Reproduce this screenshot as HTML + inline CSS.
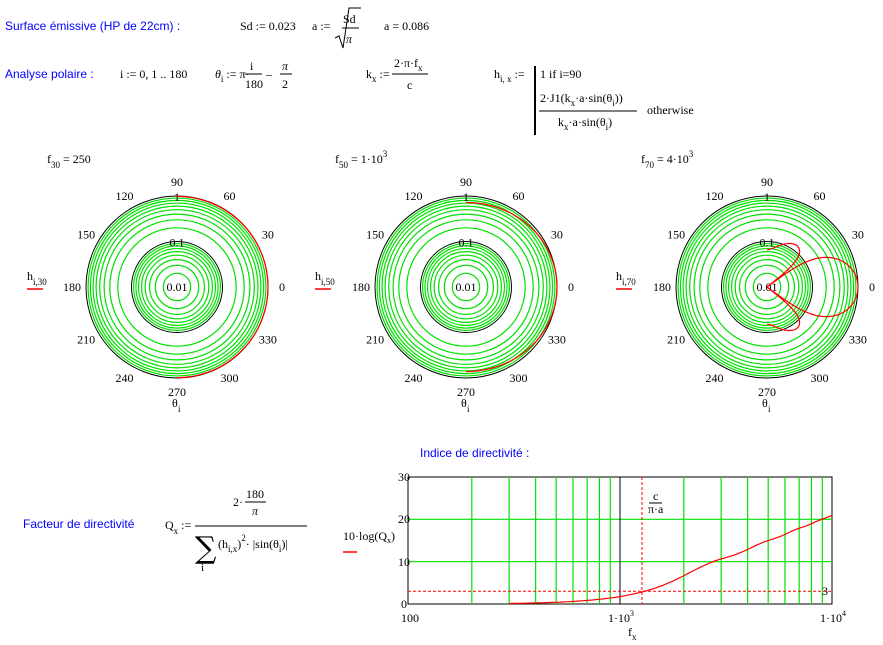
<!DOCTYPE html>
<html><head><meta charset="utf-8"><style>
html,body{margin:0;padding:0;background:#fff;}
svg{display:block}
text{font-family:"Liberation Serif",serif;font-size:12px;fill:#000}
.b{font-family:"Liberation Sans",sans-serif;fill:#0000ff;font-size:12px}
.s{font-size:9px}
</style></head><body>
<svg id="s" width="883" height="645" xmlns="http://www.w3.org/2000/svg">
<!-- top row -->
<text class="b" x="5" y="30">Surface émissive (HP de 22cm) :</text>
<text x="240" y="30">Sd := 0.023</text>
<text x="312" y="30">a :=</text>
<path d="M335,38 L339,36 L343,48 L349,8 L361,8" stroke="#000" fill="none"/>
<text x="343" y="23">Sd</text>
<line x1="342" y1="28" x2="359" y2="28" stroke="#000"/>
<text x="346" y="43" font-style="italic">π</text>
<text x="384" y="30">a = 0.086</text>

<text class="b" x="5" y="78">Analyse polaire :</text>
<text x="120" y="78">i := 0, 1 .. 180</text>
<text x="215" y="78"><tspan font-style="italic">θ</tspan><tspan dy="4" class="s">i</tspan><tspan dy="-4"> := π·</tspan></text>
<text x="250" y="70">i</text><line x1="245" y1="74" x2="262" y2="74" stroke="#000"/><text x="245" y="88">180</text>
<text x="266" y="78">–</text>
<text x="282" y="70" font-style="italic">π</text><line x1="280" y1="74" x2="292" y2="74" stroke="#000"/><text x="282" y="88">2</text>

<text x="366" y="78">k<tspan dy="4" class="s">x</tspan><tspan dy="-4"> :=</tspan></text>
<text x="394" y="67">2·π·f<tspan dy="4" class="s">x</tspan></text>
<line x1="392" y1="74" x2="428" y2="74" stroke="#000"/><text x="407" y="89">c</text>

<text x="494" y="78">h<tspan dy="4" class="s">i, x</tspan><tspan dy="-4"> :=</tspan></text>
<line x1="535" y1="66" x2="535" y2="135" stroke="#000" stroke-width="2"/>
<text x="540" y="78">1  if  i=90</text>
<text x="540" y="102">2·J1(k<tspan dy="4" class="s">x</tspan><tspan dy="-4">·a·sin(θ</tspan><tspan dy="4" class="s">i</tspan><tspan dy="-4">))</tspan></text>
<line x1="539" y1="111" x2="637" y2="111" stroke="#000"/>
<text x="558" y="126">k<tspan dy="4" class="s">x</tspan><tspan dy="-4">·a·sin(θ</tspan><tspan dy="4" class="s">i</tspan><tspan dy="-4">)</tspan></text>
<text x="647" y="114">otherwise</text>

<!-- plot titles -->
<text x="47" y="163">f<tspan dy="5" class="s">30</tspan><tspan dy="-5"> = 250</tspan></text>
<text x="335" y="163">f<tspan dy="5" class="s">50</tspan><tspan dy="-5"> = 1·10</tspan><tspan dy="-6" class="s">3</tspan></text>
<text x="641" y="163">f<tspan dy="5" class="s">70</tspan><tspan dy="-5"> = 4·10</tspan><tspan dy="-6" class="s">3</tspan></text>

<g id="polars"></g>

<!-- bottom -->
<text class="b" x="420" y="457">Indice de directivité :</text>
<text class="b" x="23" y="528">Facteur de directivité</text>
<text x="165" y="529">Q<tspan dy="5" class="s">x</tspan><tspan dy="-5"> :=</tspan></text>
<text x="233" y="506">2·</text><line x1="245" y1="502" x2="266" y2="502" stroke="#000"/>
<text x="246" y="498">180</text><text x="252" y="515" font-style="italic">π</text>
<line x1="195" y1="526" x2="307" y2="526" stroke="#000"/>
<text x="195" y="558" style="font-family:'DejaVu Serif',serif;font-size:30px">∑</text>
<text x="201" y="571" style="font-size:11px">i</text>
<text x="218" y="548">(h<tspan dy="4" class="s">i,x</tspan><tspan dy="-4">)</tspan><tspan dy="-7" class="s">2</tspan><tspan dy="7">· |sin(θ</tspan><tspan dy="4" class="s">i</tspan><tspan dy="-4">)|</tspan></text>

<rect x="408" y="477" width="424" height="127" fill="none" stroke="#000"/>
<g id="chart"></g>
<text x="398" y="481" font-size="10">30</text>
<text x="398" y="523" font-size="10">20</text>
<text x="398" y="566" font-size="10">10</text>
<text x="401" y="608" font-size="10">0</text>
<text x="401" y="622" font-size="10">100</text>
<text x="608" y="622" font-size="10">1·10<tspan dy="-6" font-size="8">3</tspan></text>
<text x="820" y="622" font-size="10">1·10<tspan dy="-6" font-size="8">4</tspan></text>
<text x="628" y="636">f<tspan dy="4" class="s">x</tspan></text>
<text x="653" y="500" font-size="10">c</text><line x1="649" y1="503" x2="662" y2="503" stroke="#000"/><text x="648" y="513" font-size="9">π·a</text>
<text x="822" y="595" font-size="10">3</text>
<text x="343" y="540" font-size="10">10·log(Q<tspan dy="3" font-size="8">x</tspan><tspan dy="-3">)</tspan></text>
<line x1="343" y1="552" x2="357" y2="552" stroke="#f00" stroke-width="1.5"/>
</svg>
<script>
var NS="http://www.w3.org/2000/svg";
function el(p,t,a,txt){var e=document.createElementNS(NS,t);for(var k in a)e.setAttribute(k,a[k]);if(txt!=null)e.textContent=txt;p.appendChild(e);return e;}
function J1(x){var n=200,s=0;for(var j=0;j<n;j++){var t=(j+0.5)*Math.PI/n;s+=Math.cos(t-x*Math.sin(t));}return s/n;}
var c=343,a=0.086;
function h(f,th){var k=2*Math.PI*f/c,u=k*a*Math.sin(th);if(Math.abs(u)<1e-9)return 1;return 2*J1(u)/u;}
var g=document.getElementById('polars');
var plots=[[177,287,250,'30',27],[466,287,1000,'50',315],[767,287,4000,'70',616]];
var R=45.5;
plots.forEach(function(p){
 var cx=p[0],cy=p[1];
 for(var d=0;d<2;d++)for(var v=2;v<=9;v++){el(g,'circle',{cx:cx,cy:cy,r:R*(d+Math.log10(v)),fill:'none',stroke:'#00e000','stroke-width':1.2});}
 el(g,'circle',{cx:cx,cy:cy,r:R,fill:'none',stroke:'#000'});
 el(g,'circle',{cx:cx,cy:cy,r:2*R,fill:'none',stroke:'#000'});
 var labs=[[0,'0'],[30,'30'],[60,'60'],[90,'90'],[120,'120'],[150,'150'],[180,'180'],[210,'210'],[240,'240'],[270,'270'],[300,'300'],[330,'330']];
 labs.forEach(function(l){var an=l[0]*Math.PI/180,rr=2*R+14;var x=cx+rr*Math.cos(an),y=cy-rr*Math.sin(an);el(g,'text',{x:x,y:y+4,'text-anchor':'middle','font-size':'10'},l[1]);});
 el(g,'text',{x:cx,y:cy-2*R+5,'text-anchor':'middle','font-size':'10'},'1');
 el(g,'text',{x:cx,y:cy-R+5,'text-anchor':'middle','font-size':'10'},'0.1');
 el(g,'text',{x:cx,y:cy+4,'text-anchor':'middle','font-size':'10'},'0.01');
 el(g,'text',{x:cx-5,y:cy+120},'θ');el(g,'text',{x:cx+1,y:cy+125,'class':'s'},'i');
 var d='';
 for(var i=0;i<=180;i++){var th=Math.PI*i/180-Math.PI/2;var v=Math.abs(h(p[2],th));
  var r=v<0.01?0:R*(2+Math.log10(Math.min(v,1)));var x=cx+r*Math.cos(th),y=cy-r*Math.sin(th);d+=(i?'L':'M')+x.toFixed(1)+','+y.toFixed(1);}
 el(g,'path',{d:d,fill:'none',stroke:'#f00','stroke-width':1.2});
 el(g,'text',{x:p[4],y:280},'h');el(g,'text',{x:p[4]+6,y:285,'class':'s'},'i,'+p[3]);
 el(g,'line',{x1:p[4],y1:289,x2:p[4]+16,y2:289,stroke:'#f00','stroke-width':1.5});
});
var ch=document.getElementById('chart');
var X0=408,W=424,Y0=604,H=127;
function fx(f){return X0+W*Math.log10(f/100)/2;}
function fy(v){return Y0-H*v/30;}
[200,300,400,500,600,700,800,900,2000,3000,4000,5000,6000,7000,8000,9000].forEach(function(f){var x=fx(f);el(ch,'line',{x1:x,y1:477,x2:x,y2:604,stroke:'#00e000','stroke-width':1.2});});
[10,20].forEach(function(v){el(ch,'line',{x1:408,y1:fy(v),x2:832,y2:fy(v),stroke:'#00e000','stroke-width':1.2});});
el(ch,'line',{x1:620,y1:477,x2:620,y2:604,stroke:'#000'});
var fc=c/(Math.PI*a);
el(ch,'line',{x1:fx(fc),y1:477,x2:fx(fc),y2:604,stroke:'#f00','stroke-dasharray':'3,2'});
el(ch,'line',{x1:408,y1:fy(3),x2:832,y2:fy(3),stroke:'#f00','stroke-dasharray':'3,2'});
var d='';
for(var j=0;j<=120;j++){var f=300*Math.pow(10000/300,j/120);var s=0;
 for(var i=0;i<=180;i++){var th=Math.PI*i/180-Math.PI/2;var v=h(f,th);s+=v*v*Math.abs(Math.sin(th));}
 var Q=2*180/Math.PI/s;var y=10*Math.log10(Q);d+=(j?'L':'M')+fx(f).toFixed(1)+','+fy(Math.max(0,y)).toFixed(1);}
el(ch,'path',{d:d,fill:'none',stroke:'#f00','stroke-width':1.2});
</script>
</body></html>
